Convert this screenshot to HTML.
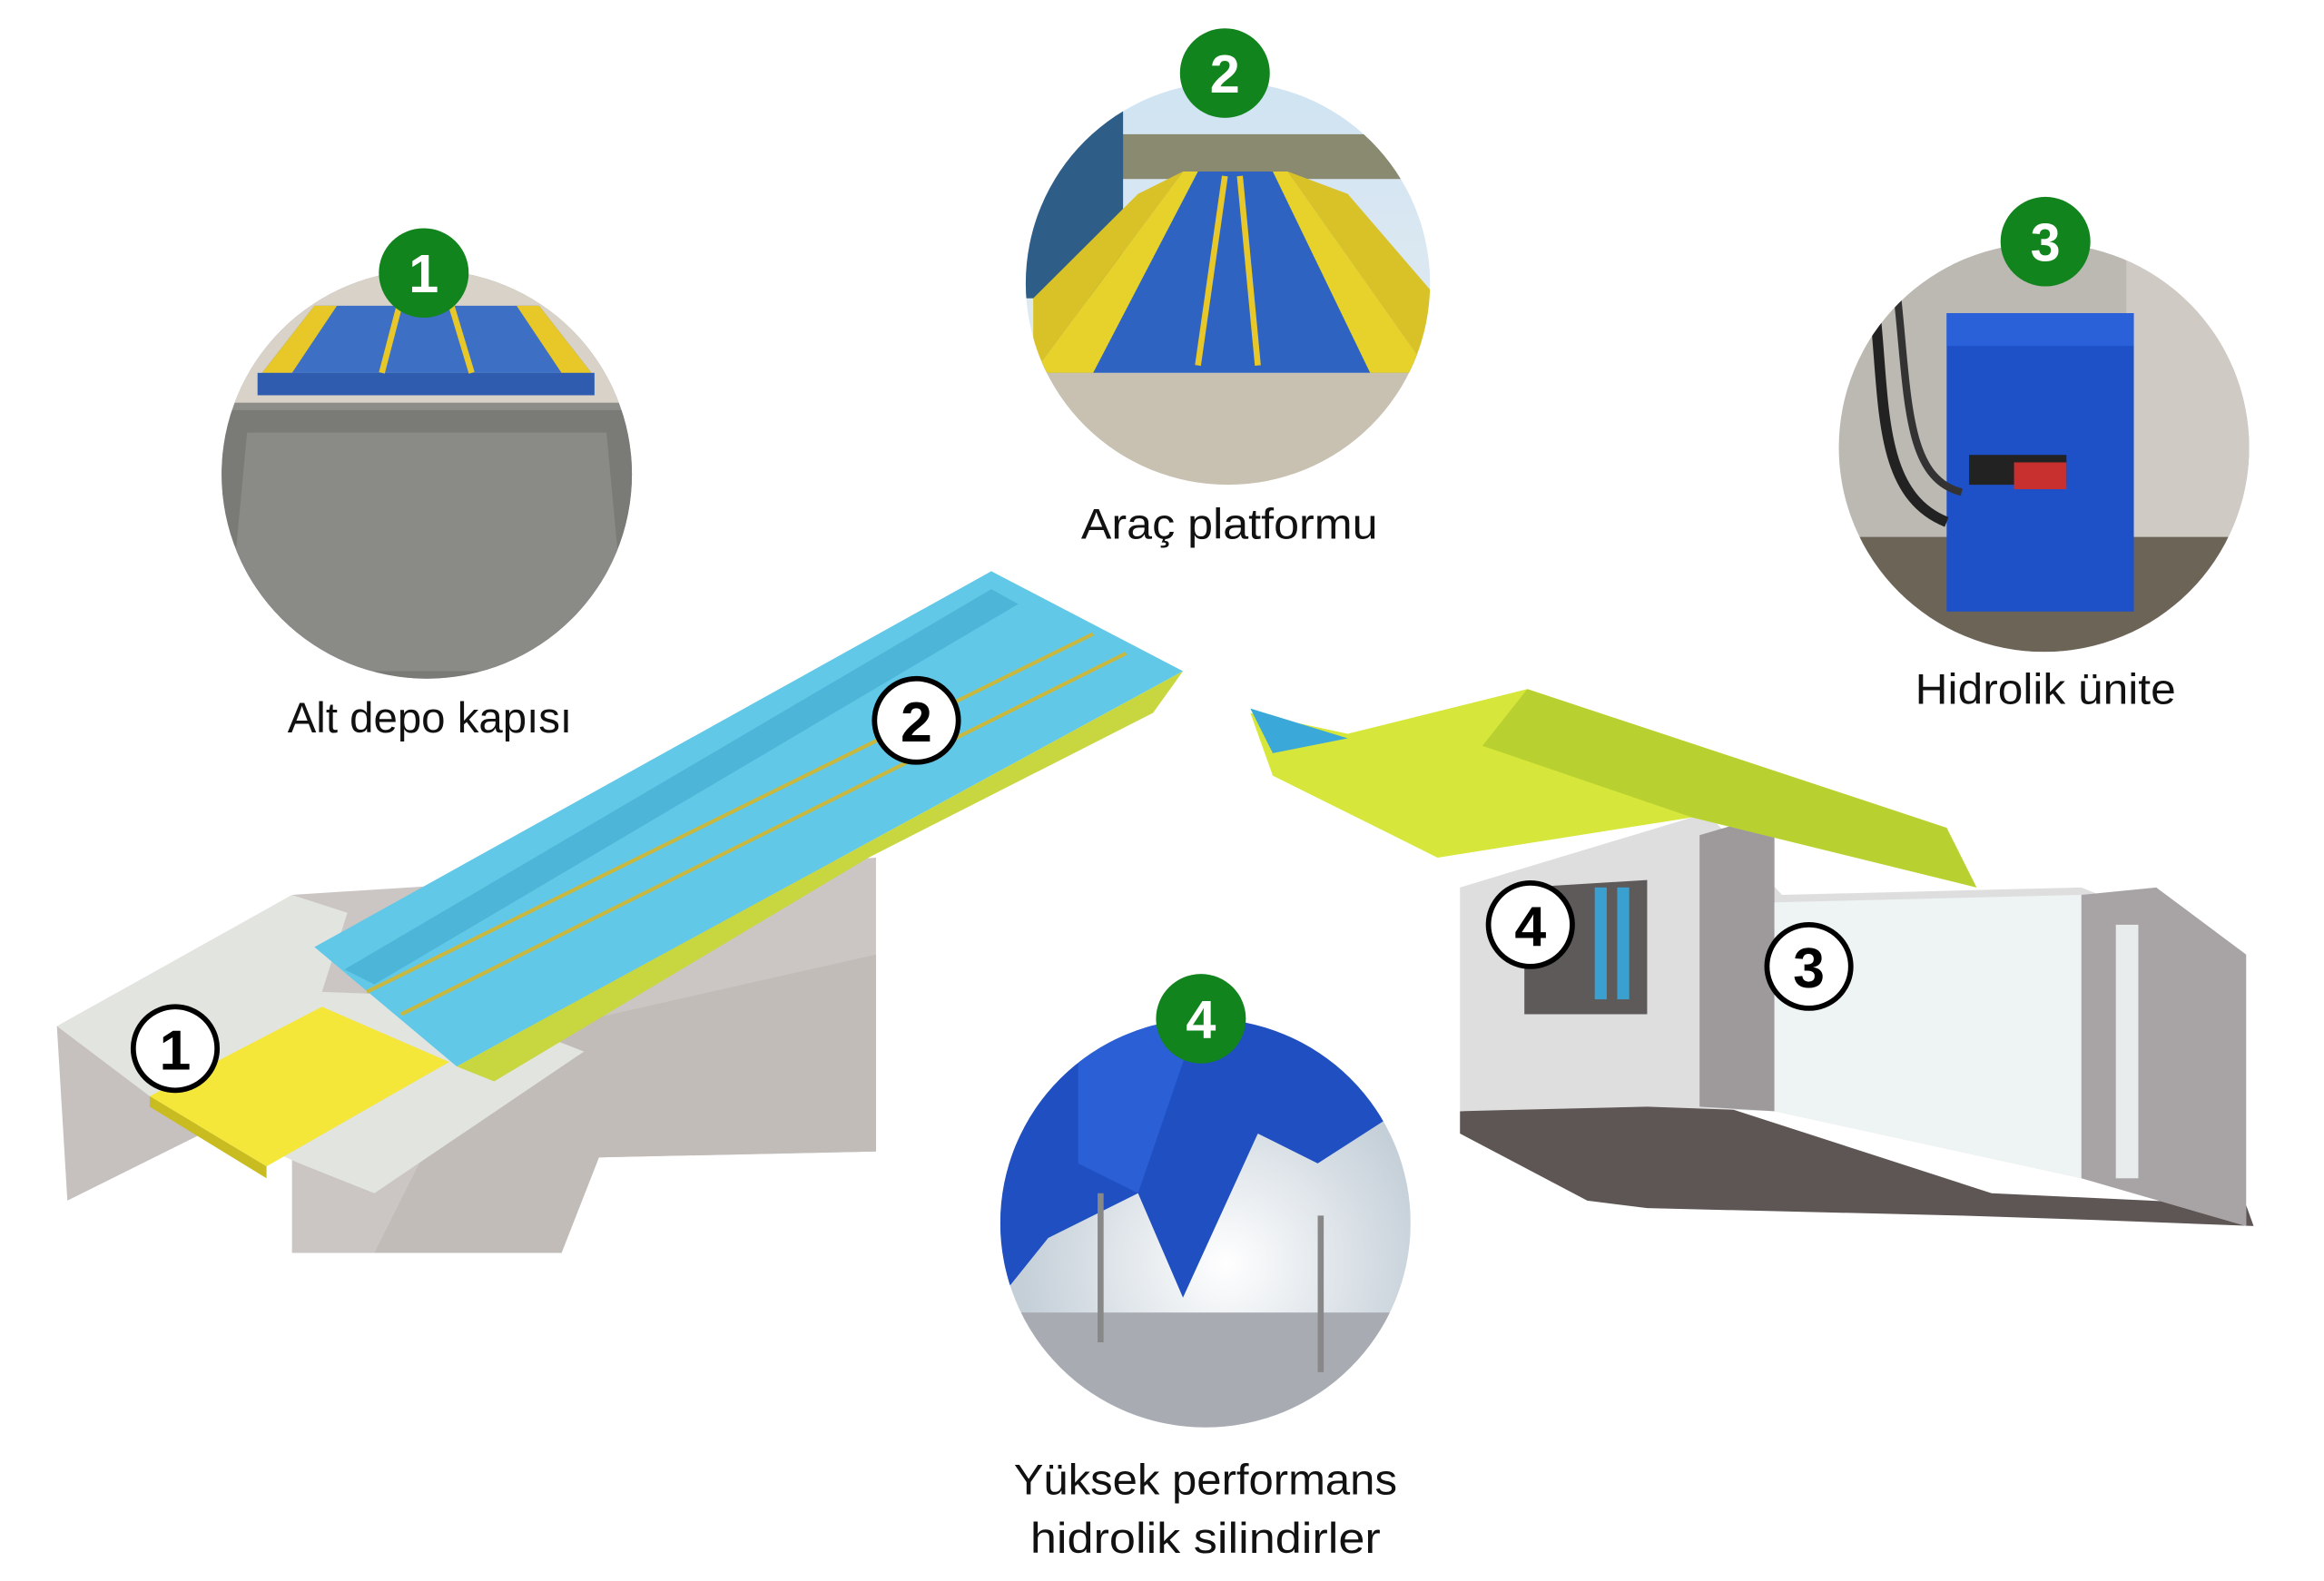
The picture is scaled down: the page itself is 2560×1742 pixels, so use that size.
<!DOCTYPE html>
<html><head><meta charset="utf-8"><style>
html,body{margin:0;padding:0;background:#fff;}
svg{display:block;}
text{font-family:"Liberation Sans",sans-serif;}
</style></head><body>
<svg width="2560" height="1742" viewBox="0 0 1552 1060" preserveAspectRatio="none" xmlns="http://www.w3.org/2000/svg">
<defs>
<clipPath id="c1"><circle cx="285" cy="318" r="137"/></clipPath>
<clipPath id="c2"><circle cx="820" cy="190" r="135"/></clipPath>
<clipPath id="c3"><circle cx="1365" cy="300" r="137"/></clipPath>
<clipPath id="c4"><circle cx="805" cy="820" r="137"/></clipPath>
<linearGradient id="sky" x1="0" y1="0" x2="0" y2="1"><stop offset="0" stop-color="#cfe3f2"/><stop offset="1" stop-color="#e9eef0"/></linearGradient>
<radialGradient id="light" cx="0.55" cy="0.6" r="0.5"><stop offset="0" stop-color="#ffffff"/><stop offset="1" stop-color="#c4cfd8"/></radialGradient>
</defs>

<!-- Circle 1 photo -->
<g clip-path="url(#c1)">
<rect x="140" y="170" width="300" height="300" fill="#8c8c88"/>
<rect x="140" y="170" width="300" height="100" fill="#d8d2c8"/>
<polygon points="175,250 210,205 360,205 395,250" fill="#3d6fc4"/>
<polygon points="175,250 210,205 225,205 195,250" fill="#e8c828"/>
<polygon points="395,250 360,205 345,205 375,250" fill="#e8c828"/>
<rect x="172" y="250" width="225" height="15" fill="#2f5cae"/>
<line x1="255" y1="250" x2="268" y2="200" stroke="#e8c828" stroke-width="4"/>
<line x1="315" y1="250" x2="300" y2="200" stroke="#e8c828" stroke-width="4"/>
<polygon points="150,275 420,275 440,470 140,470" fill="#7a7a76"/>
<polygon points="165,290 405,290 420,450 150,450" fill="#8a8a86"/>
</g>
<!-- Circle 2 photo -->
<g clip-path="url(#c2)">
<rect x="680" y="50" width="280" height="280" fill="url(#sky)"/>
<rect x="680" y="90" width="280" height="30" fill="#8a8a70"/>
<rect x="680" y="50" width="70" height="150" fill="#2e5e88"/>
<polygon points="690,250 790,115 860,115 955,250" fill="#2f63c2"/>
<polygon points="690,250 790,115 800,115 730,250" fill="#e6d22a"/>
<polygon points="690,250 790,115 760,130 690,200" fill="#d8c228"/>
<polygon points="955,250 860,115 850,115 915,250" fill="#e6d22a"/>
<polygon points="955,250 860,115 900,130 960,200" fill="#d8c228"/>
<line x1="800" y1="245" x2="818" y2="118" stroke="#e8c828" stroke-width="4"/>
<line x1="840" y1="245" x2="828" y2="118" stroke="#e8c828" stroke-width="4"/>
<rect x="680" y="250" width="280" height="80" fill="#c8c0b0"/>
</g>
<!-- Circle 3 photo -->
<g clip-path="url(#c3)">
<rect x="1225" y="160" width="280" height="280" fill="#bcb8b2"/>
<rect x="1420" y="160" width="85" height="280" fill="#cfcbc4"/>
<rect x="1225" y="360" width="280" height="80" fill="#6d6458"/>
<rect x="1300" y="210" width="125" height="200" fill="#1e50c8"/>
<rect x="1300" y="210" width="125" height="22" fill="#2a60d8"/>
<rect x="1315" y="305" width="65" height="20" fill="#222"/>
<rect x="1345" y="310" width="35" height="18" fill="#c83030"/>
<path d="M1250,190 C1260,260 1250,330 1300,350" stroke="#222" stroke-width="7" fill="none"/>
<path d="M1265,180 C1275,260 1270,320 1310,330" stroke="#333" stroke-width="5" fill="none"/>
</g>
<!-- Circle 4 photo -->
<g clip-path="url(#c4)">
<rect x="668" y="683" width="274" height="274" fill="url(#light)"/>
<polygon points="668,683 942,683 942,740 880,780 840,760 790,870 760,800 700,830 668,870" fill="#1f4fc0"/>
<polygon points="720,683 800,683 760,800 720,780" fill="#2a5fd6"/>
<rect x="668" y="880" width="274" height="80" fill="#a8acb2"/>
<line x1="735" y1="800" x2="735" y2="900" stroke="#888" stroke-width="4"/>
<line x1="882" y1="815" x2="882" y2="920" stroke="#888" stroke-width="4"/>
</g>

<!-- Green badges -->
<g font-weight="bold" fill="#fff" text-anchor="middle" font-size="36">
<circle cx="283" cy="183" r="30" fill="#12841e"/><text x="283" y="196">1</text>
<circle cx="818" cy="49" r="30" fill="#12841e"/><text x="818" y="62">2</text>
<circle cx="1366" cy="162" r="30" fill="#12841e"/><text x="1366" y="175">3</text>
<circle cx="802" cy="683" r="30" fill="#12841e"/><text x="802" y="696">4</text>
</g>

<!-- Labels -->
<g font-size="29" fill="#111" text-anchor="middle">
<text x="287" y="491" textLength="190" lengthAdjust="spacingAndGlyphs">Alt depo kapısı</text>
<text x="821" y="361" textLength="198" lengthAdjust="spacingAndGlyphs">Araç platformu</text>
<text x="1366" y="472" textLength="174" lengthAdjust="spacingAndGlyphs">Hidrolik ünite</text>
<text x="805" y="1002" textLength="256" lengthAdjust="spacingAndGlyphs">Yüksek performans</text>
<text x="805" y="1041" textLength="234" lengthAdjust="spacingAndGlyphs">hidrolik silindirler</text>
</g>

<!-- Left model -->
<polygon points="195,600 585,575 585,772 400,776 375,840 195,840" fill="#cbc6c4"/>
<polygon points="320,700 585,640 585,772 400,776 375,840 250,840" fill="#c2bcb9"/>
<polygon points="38,688 100,690 135,760 45,805" fill="#c6c0be"/>
<polygon points="38,688 195,600 232,612 215,665 295,668 390,705 250,800 200,780 100,735" fill="#e2e4e0"/>
<polygon points="100,735 215,675 300,712 178,782" fill="#f5e63a"/>
<polygon points="100,735 178,782 178,790 100,742" fill="#c8bc20"/>
<polygon points="210,635 662,383 790,450 305,715" fill="#61c8e8"/>
<polygon points="230,650 662,395 680,405 250,660" fill="#4db5d8"/>
<polygon points="305,715 790,450 770,478 580,575 330,725" fill="#c8d640"/>
<line x1="245" y1="665" x2="730" y2="425" stroke="#c8b840" stroke-width="2.5"/>
<line x1="268" y1="680" x2="752" y2="438" stroke="#c8b840" stroke-width="2.5"/>
<circle cx="117" cy="703" r="28" fill="#fff" stroke="#000" stroke-width="3.5"/>
<text x="117" y="717" font-size="38" font-weight="bold" text-anchor="middle">1</text>
<circle cx="612" cy="483" r="28" fill="#fff" stroke="#000" stroke-width="3.5"/>
<text x="612" y="497" font-size="38" font-weight="bold" text-anchor="middle">2</text>

<!-- Right model -->
<polygon points="975,745 1130,735 1330,800 1500,808 1505,822 1400,818 1310,815 1100,810 1060,805 975,760" fill="#5e5654"/>
<polygon points="975,595 1140,545 1190,600 1390,595 1500,640 1500,822 1390,790 1185,745 1100,742 975,745" fill="#dedede"/>
<polygon points="1135,560 1185,545 1185,745 1135,742" fill="#9e9a9c"/>
<polygon points="1185,605 1390,600 1390,790 1185,745" fill="#eef3f4"/>
<polygon points="1390,600 1440,595 1500,640 1500,822 1390,790" fill="#a8a4a6"/>
<rect x="1413" y="620" width="15" height="170" fill="#e8eced"/>
<polygon points="1018,595 1100,590 1100,680 1018,680" fill="#5e5a5a"/>
<rect x="1065" y="595" width="8" height="75" fill="#3aa0d0"/>
<rect x="1080" y="595" width="8" height="75" fill="#3aa0d0"/>
<polygon points="835,478 900,492 1020,462 1300,555 1320,595 1130,548 960,575 850,520" fill="#d6e63a"/>
<polygon points="1020,462 1300,555 1320,595 1130,548 990,500" fill="#b8d030"/>
<polygon points="835,475 900,495 850,505" fill="#3aa8d8"/>
<circle cx="1022" cy="620" r="28" fill="#fff" stroke="#000" stroke-width="3.5"/>
<text x="1022" y="634" font-size="38" font-weight="bold" text-anchor="middle">4</text>
<circle cx="1208" cy="648" r="28" fill="#fff" stroke="#000" stroke-width="3.5"/>
<text x="1208" y="662" font-size="38" font-weight="bold" text-anchor="middle">3</text>
</svg>
</body></html>
